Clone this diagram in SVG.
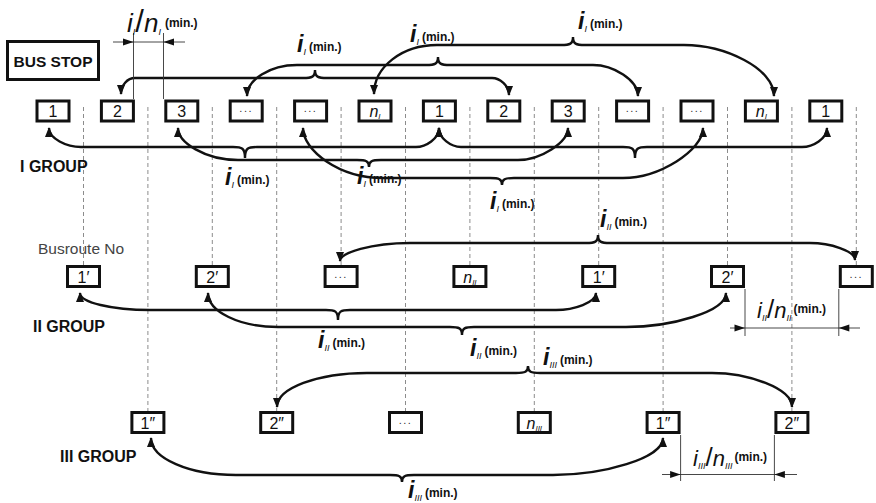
<svg xmlns="http://www.w3.org/2000/svg" width="876" height="503" viewBox="0 0 876 503">
<style>
.box{fill:#fff;stroke:#111;stroke-width:3}
.bt{font-family:"Liberation Sans",Arial,sans-serif;font-size:16px;fill:#111;text-anchor:middle}
.dots{font-size:11px;letter-spacing:1.5px;fill:#333}
.bsub{font-size:8px;font-style:italic}
.con{fill:none;stroke:#111;stroke-width:2.4;marker-start:url(#ah);marker-end:url(#ah)}
.dash{stroke:#8c8c8c;stroke-width:1;stroke-dasharray:4 3;fill:none}
.dim{stroke:#333;stroke-width:0.9;fill:none}
.dah{fill:#111;stroke:none}
.lbl{font-family:"Liberation Sans",Arial,sans-serif;fill:#111}
.s{font-style:italic;font-size:22px}
.sj{font-style:italic;font-size:23px;font-weight:bold}
.s2{font-style:italic;font-size:26px}
.sl{font-size:26px}
.sl2{font-size:31px}
.sb{font-style:italic;font-size:9px}
.m{font-weight:bold;font-size:12px}
.grp{font-family:"Liberation Sans",Arial,sans-serif;font-weight:bold;font-size:16px;fill:#111}
.note{font-family:"Liberation Sans",Arial,sans-serif;font-size:15.5px;fill:#444}
</style>
<defs>
<marker id="ah" viewBox="0 0 10 8" refX="9" refY="4" markerWidth="10" markerHeight="8" markerUnits="userSpaceOnUse" orient="auto-start-reverse"><path d="M0,0 L10,4 L0,8 z" fill="#111"/></marker>
</defs>

<g id="gridlines">
<line class="dash" x1="83.5" y1="107" x2="83.5" y2="265"/>
<line class="dash" x1="147.9" y1="107" x2="147.9" y2="411"/>
<line class="dash" x1="212.3" y1="107" x2="212.3" y2="265"/>
<line class="dash" x1="276.7" y1="107" x2="276.7" y2="411"/>
<line class="dash" x1="341.1" y1="107" x2="341.1" y2="265"/>
<line class="dash" x1="405.5" y1="107" x2="405.5" y2="411"/>
<line class="dash" x1="469.9" y1="107" x2="469.9" y2="265"/>
<line class="dash" x1="534.3" y1="107" x2="534.3" y2="411"/>
<line class="dash" x1="598.7" y1="107" x2="598.7" y2="265"/>
<line class="dash" x1="663.1" y1="107" x2="663.1" y2="411"/>
<line class="dash" x1="727.5" y1="107" x2="727.5" y2="265"/>
<line class="dash" x1="791.9" y1="107" x2="791.9" y2="411"/>
<line class="dash" x1="856.3" y1="107" x2="856.3" y2="265"/>
</g>

<g id="busstop">
<rect class="box" x="7.5" y="41.5" width="91" height="38"/>
<text class="grp" x="53" y="66.5" text-anchor="middle" style="font-size:15.5px">BUS STOP</text>
</g>

<g id="labels-groups">
<text class="grp" x="20" y="172">I GROUP</text>
<text class="note" x="38" y="254">Busroute No</text>
<text class="grp" x="33" y="332">II GROUP</text>
<text class="grp" x="60" y="462">III GROUP</text>
</g>

<!-- Row I -->
<g id="r1-0"><rect class="box" x="37" y="101" width="32" height="20"/><text class="bt" x="53" y="117">1</text></g>
<g id="r1-1"><rect class="box" x="101.4" y="101" width="32" height="20"/><text class="bt" x="117.4" y="117">2</text></g>
<g id="r1-2"><rect class="box" x="165.8" y="101" width="32" height="20"/><text class="bt" x="181.8" y="117">3</text></g>
<g id="r1-3"><rect class="box" x="230.2" y="101" width="32" height="20"/><text class="bt dots" x="246.2" y="112">...</text></g>
<g id="r1-4"><rect class="box" x="294.6" y="101" width="32" height="20"/><text class="bt dots" x="310.6" y="112">...</text></g>
<g id="r1-5"><rect class="box" x="359" y="101" width="32" height="20"/><text class="bt" x="375" y="117"><tspan font-style="italic">n</tspan><tspan class="bsub" dy="2">I</tspan></text></g>
<g id="r1-6"><rect class="box" x="423.4" y="101" width="32" height="20"/><text class="bt" x="439.4" y="117">1</text></g>
<g id="r1-7"><rect class="box" x="487.8" y="101" width="32" height="20"/><text class="bt" x="503.8" y="117">2</text></g>
<g id="r1-8"><rect class="box" x="552.2" y="101" width="32" height="20"/><text class="bt" x="568.2" y="117">3</text></g>
<g id="r1-9"><rect class="box" x="616.6" y="101" width="32" height="20"/><text class="bt dots" x="632.6" y="112">...</text></g>
<g id="r1-10"><rect class="box" x="681" y="101" width="32" height="20"/><text class="bt dots" x="697" y="112">...</text></g>
<g id="r1-11"><rect class="box" x="745.4" y="101" width="32" height="20"/><text class="bt" x="761.4" y="117"><tspan font-style="italic">n</tspan><tspan class="bsub" dy="2">I</tspan></text></g>
<g id="r1-12"><rect class="box" x="809.8" y="101" width="32" height="20"/><text class="bt" x="825.8" y="117">1</text></g>

<!-- Row II -->
<g id="r2-0"><rect class="box" x="67.5" y="266.5" width="32" height="20"/><text class="bt" x="83.5" y="282.5">1′</text></g>
<g id="r2-1"><rect class="box" x="196.3" y="266.5" width="32" height="20"/><text class="bt" x="212.3" y="282.5">2′</text></g>
<g id="r2-2"><rect class="box" x="325.1" y="266.5" width="32" height="20"/><text class="bt dots" x="341.1" y="278">...</text></g>
<g id="r2-3"><rect class="box" x="453.9" y="266.5" width="32" height="20"/><text class="bt" x="469.9" y="282.5"><tspan font-style="italic">n</tspan><tspan class="bsub" dy="2">II</tspan></text></g>
<g id="r2-4"><rect class="box" x="582.7" y="266.5" width="32" height="20"/><text class="bt" x="598.7" y="282.5">1′</text></g>
<g id="r2-5"><rect class="box" x="711.5" y="266.5" width="32" height="20"/><text class="bt" x="727.5" y="282.5">2′</text></g>
<g id="r2-6"><rect class="box" x="840.3" y="266.5" width="32" height="20"/><text class="bt dots" x="856.3" y="278">...</text></g>

<!-- Row III -->
<g id="r3-0"><rect class="box" x="131.9" y="412.5" width="32" height="20"/><text class="bt" x="147.9" y="428.5">1″</text></g>
<g id="r3-1"><rect class="box" x="260.7" y="412.5" width="32" height="20"/><text class="bt" x="276.7" y="428.5">2″</text></g>
<g id="r3-2"><rect class="box" x="389.5" y="412.5" width="32" height="20"/><text class="bt dots" x="405.5" y="424">...</text></g>
<g id="r3-3"><rect class="box" x="518.3" y="412.5" width="32" height="20"/><text class="bt" x="534.3" y="428.5"><tspan font-style="italic">n</tspan><tspan class="bsub" dy="2">III</tspan></text></g>
<g id="r3-4"><rect class="box" x="647.1" y="412.5" width="32" height="20"/><text class="bt" x="663.1" y="428.5">1″</text></g>
<g id="r3-5"><rect class="box" x="775.9" y="412.5" width="32" height="20"/><text class="bt" x="791.9" y="428.5">2″</text></g>

<g id="connectors">
<path class="con" d="M121,94 C121,85.2 127.3,78 135,78 L303,78 C312,78 315,77 315,70 C315,77 318,78 327,78 L492,78 C499.7,78 509,85.2 509,95"/>
<path class="con" d="M247,96 C247,80 269.5,65 297,65 L426,65 C435,65 438,64 438,57 C438,64 441,65 450,65 L593,65 C613.3,65 638,80 638,96"/>
<path class="con" d="M374,94 C374,67 402,45 437,45 L561,45 C570,45 573,44 573,37 C573,44 576,45 585,45 L684,45 C724.5,45 774,68 774,96"/>
<path class="con" d="M49,128 C49,138.5 66.6,147 81,147 L233,147 C242,147 245,148 245,158 C245,148 248,147 257,147 L416,147 C425.9,147 439,138.5 439,128"/>
<path class="con" d="M439,128 C439,138.5 451.1,147 461,147 L623,147 C632,147 635,148 635,158 C635,148 638,147 647,147 L802,147 C813.2,147 827,138.5 827,128"/>
<path class="con" d="M178,128 C178,142.4 205,160 238,160 L357,160 C366,160 369,161 369,167 C369,161 372,160 381,160 L518,160 C540.5,160 568,142.4 568,128"/>
<path class="con" d="M303,128 C303,150.5 339,178 383,178 L490,178 C499,178 502,179 502,185 C502,179 505,178 514,178 L623,178 C659,178 703,150.5 703,128"/>
<path class="con" d="M340,261 C340,252.9 371.5,243 410,243 L586,243 C595,243 598,242 598,235 C598,242 601,243 610,243 L810,243 C830,243 855,250.7 855,260"/>
<path class="con" d="M80,293 C80,302.4 111.5,310 150,310 L326,310 C335,310 338,311 338,320 C338,311 341,310 350,310 L556,310 C574,310 596,302.4 596,293"/>
<path class="con" d="M208,293 C208,311.7 239.5,327 278,327 L450,327 C459,327 462,328 462,335 C462,328 465,327 474,327 L626,327 C671,327 726,311.7 726,293"/>
<path class="con" d="M277,407 C277,388.3 317.5,373 367,373 L516,373 C525,373 528,372 528,366 C528,372 531,373 540,373 L712,373 C748,373 792,388.3 792,407"/>
<path class="con" d="M151,438 C151,458.4 189,475 236,475 L390,475 C399,475 402,476 402,482 C402,476 405,475 414,475 L553,475 C602.5,475 663,458.4 663,438"/>
</g>

<g id="dimensions">
<path class="dim" d="M133.5,33 V99 M163.5,33 V99 M113,42 H185"/>
<polygon class="dah" points="133.5,42 123,38.5 123,45.5"/>
<polygon class="dah" points="163.5,42 174,38.5 174,45.5"/>
<path class="dim" d="M745,289 V336 M838.8,289 V336 M730,328 H860"/>
<polygon class="dah" points="745,328 734.5,324.5 734.5,331.5"/>
<polygon class="dah" points="838.8,328 849.3,324.5 849.3,331.5"/>
<path class="dim" d="M680.6,435 V481 M774.4,435 V481 M662,474.5 H797"/>
<polygon class="dah" points="680.6,474.5 670.1,471 670.1,478"/>
<polygon class="dah" points="774.4,474.5 784.9,471 784.9,478"/>
</g>

<g id="labels">
<text class="lbl" x="127" y="32"><tspan class="s2">i</tspan><tspan class="sb" dy="3">I</tspan><tspan class="sl2" dy="-3">/</tspan><tspan class="s2">n</tspan><tspan class="sb" dy="3">I</tspan><tspan class="m" dx="4" dy="-8">(min.)</tspan></text>
<text class="lbl" x="757" y="318"><tspan class="s">i</tspan><tspan class="sb" dy="3">II</tspan><tspan class="sl" dy="-3">/</tspan><tspan class="s">n</tspan><tspan class="sb" dy="3">II</tspan><tspan class="m" dx="2" dy="-8">(min.)</tspan></text>
<text class="lbl" x="693" y="466"><tspan class="s">i</tspan><tspan class="sb" dy="3">III</tspan><tspan class="sl" dy="-3">/</tspan><tspan class="s">n</tspan><tspan class="sb" dy="3">III</tspan><tspan class="m" dx="2" dy="-8">(min.)</tspan></text>

<text class="lbl" x="297" y="52"><tspan class="sj">i</tspan><tspan class="sb" dy="3">I</tspan><tspan class="m" dx="3" dy="-4">(min.)</tspan></text>
<text class="lbl" x="410" y="42"><tspan class="sj">i</tspan><tspan class="sb" dy="3">I</tspan><tspan class="m" dx="3" dy="-4">(min.)</tspan></text>
<text class="lbl" x="578" y="29"><tspan class="sj">i</tspan><tspan class="sb" dy="3">I</tspan><tspan class="m" dx="3" dy="-4">(min.)</tspan></text>
<text class="lbl" x="225" y="185"><tspan class="sj">i</tspan><tspan class="sb" dy="3">I</tspan><tspan class="m" dx="3" dy="-4">(min.)</tspan></text>
<text class="lbl" x="357" y="184"><tspan class="sj">i</tspan><tspan class="sb" dy="3">I</tspan><tspan class="m" dx="3" dy="-4">(min.)</tspan></text>
<text class="lbl" x="490" y="209"><tspan class="sj">i</tspan><tspan class="sb" dy="3">I</tspan><tspan class="m" dx="3" dy="-4">(min.)</tspan></text>
<text class="lbl" x="600" y="227"><tspan class="sj">i</tspan><tspan class="sb" dy="3">II</tspan><tspan class="m" dx="3" dy="-4">(min.)</tspan></text>
<text class="lbl" x="318" y="348"><tspan class="sj">i</tspan><tspan class="sb" dy="3">II</tspan><tspan class="m" dx="3" dy="-4">(min.)</tspan></text>
<text class="lbl" x="470" y="356"><tspan class="sj">i</tspan><tspan class="sb" dy="3">II</tspan><tspan class="m" dx="3" dy="-4">(min.)</tspan></text>
<text class="lbl" x="543" y="365"><tspan class="sj">i</tspan><tspan class="sb" dy="3">III</tspan><tspan class="m" dx="3" dy="-4">(min.)</tspan></text>
<text class="lbl" x="408" y="498"><tspan class="sj">i</tspan><tspan class="sb" dy="3">III</tspan><tspan class="m" dx="3" dy="-4">(min.)</tspan></text>
</g>
</svg>
